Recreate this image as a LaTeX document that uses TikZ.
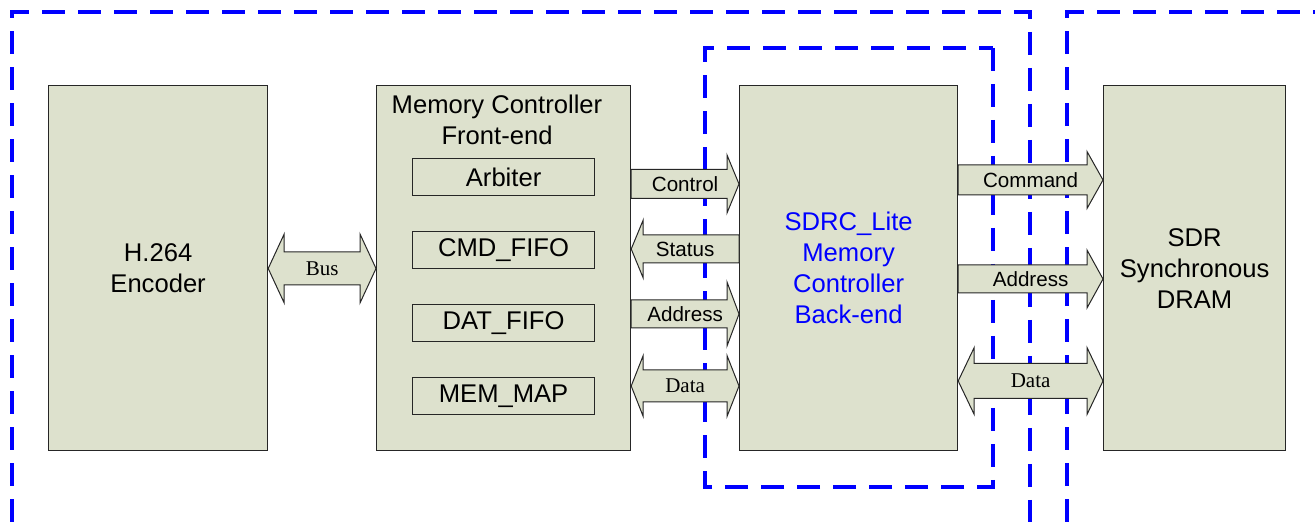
\documentclass[tikz,border=0pt]{standalone}
\usepackage{fontspec}
\setmainfont{Liberation Sans}
\newfontfamily\timesf{Liberation Serif}
\usetikzlibrary{calc}
\definecolor{boxfill}{RGB}{221,225,205}
\definecolor{dblue}{RGB}{0,0,255}
% right-pointing block arrow: #1 from node, #2 to node, #3 y centre, #4 half shaft, #5 half head, #6 head length, #7 label, #8 label style
\newcommand\arrR[8]{%
  \draw[barrow] let \p1=(#1.east), \p2=(#2.west) in
    (\x1,#3-#4) -- ({\x2-#6*0.5pt},#3-#4) -- ({\x2-#6*0.5pt},#3-#5) -- (\x2,#3)
    -- ({\x2-#6*0.5pt},#3+#5) -- ({\x2-#6*0.5pt},#3+#4) -- (\x1,#3+#4) -- cycle
    node[#8] at ({0.5*\x1+0.5*\x2},#3) {#7};}
\newcommand\arrL[8]{%
  \draw[barrow] let \p1=(#1.east), \p2=(#2.west) in
    (\x2,#3-#4) -- ({\x1+#6*0.5pt},#3-#4) -- ({\x1+#6*0.5pt},#3-#5) -- (\x1,#3)
    -- ({\x1+#6*0.5pt},#3+#5) -- ({\x1+#6*0.5pt},#3+#4) -- (\x2,#3+#4) -- cycle
    node[#8] at ({0.5*\x1+0.5*\x2},#3) {#7};}
\newcommand\arrD[8]{%
  \draw[barrow] let \p1=(#1.east), \p2=(#2.west) in
    (\x1,#3) -- ({\x1+#6*0.5pt},#3-#5) -- ({\x1+#6*0.5pt},#3-#4)
    -- ({\x2-#6*0.5pt},#3-#4) -- ({\x2-#6*0.5pt},#3-#5) -- (\x2,#3)
    -- ({\x2-#6*0.5pt},#3+#5) -- ({\x2-#6*0.5pt},#3+#4)
    -- ({\x1+#6*0.5pt},#3+#4) -- ({\x1+#6*0.5pt},#3+#5) -- cycle
    node[#8] at ({0.5*\x1+0.5*\x2},#3) {#7};}
\begin{document}
\begin{tikzpicture}[x=0.5pt,y=-0.5pt,
  box/.style={draw=black!85, fill=boxfill, line width=0.6pt, inner sep=0pt, anchor=north west},
  big/.style={font=\fontsize{12.8}{15.5}\selectfont, align=center},
  barrow/.style={draw=black!85, fill=boxfill, line width=0.5pt},
  lbl/.style={font=\fontsize{10.3}{12}\selectfont, inner sep=0pt},
  slbl/.style={font=\timesf\fontsize{10.5}{12}\selectfont, inner sep=0pt},
  region/.style={draw=dblue, line width=1.8pt, dash pattern=on 11.5pt off 6.5pt}]
\useasboundingbox (0,0) rectangle (1315,522);

\draw[region] (12,522) -- (12,12) -- (1030,12) -- (1030,522);
\draw[region] (1067,522) -- (1067,12) -- (1315,12);
\draw[region] (993,48) -- (993,487) -- (705,487) -- (705,48) -- cycle;

\node[box, big, minimum width=109.5pt, minimum height=182.5pt] (enc) at (48,85) {H.264\\Encoder};
\node[box, minimum width=127pt, minimum height=182.5pt] (mc) at (376,85) {};
\node[big, anchor=north, inner sep=0pt] (mct) at (497,95) {Memory Controller\\Front-end};
\node[box, big, minimum width=91pt, minimum height=18.5pt] (arb) at (412,158) {Arbiter};
\node[box, big, minimum width=91pt, minimum height=18.5pt] (cmd) at (412,231) {CMD\_FIFO};
\node[box, big, minimum width=91pt, minimum height=18.5pt] (dat) at (412,304) {DAT\_FIFO};
\node[box, big, minimum width=91pt, minimum height=18.5pt] (map) at (412,377) {MEM\_MAP};
\node[box, big, text=dblue, minimum width=109pt, minimum height=182.5pt] (sdrc) at (739,85) {SDRC\_Lite\\Memory\\Controller\\Back-end};
\node[box, big, minimum width=91pt, minimum height=182.5pt] (sdr) at (1103,85) {SDR\\Synchronous\\DRAM};

\arrD{enc}{mc}{268.5}{16.5}{34.5}{16}{Bus}{slbl}
\arrR{mc}{sdrc}{184}{14.5}{29}{12}{Control}{lbl}
\arrL{mc}{sdrc}{249}{14}{29}{12}{Status}{lbl}
\arrR{mc}{sdrc}{314}{14}{32}{12}{Address}{lbl}
\arrD{mc}{sdrc}{386}{16}{30.5}{12}{Data}{slbl}
\arrR{sdrc}{sdr}{180}{15}{28.5}{16}{Command}{lbl}
\arrR{sdrc}{sdr}{279}{14}{29}{16}{Address}{lbl}
\arrD{sdrc}{sdr}{381}{17.5}{33.5}{16}{Data}{slbl}
\end{tikzpicture}
\end{document}
